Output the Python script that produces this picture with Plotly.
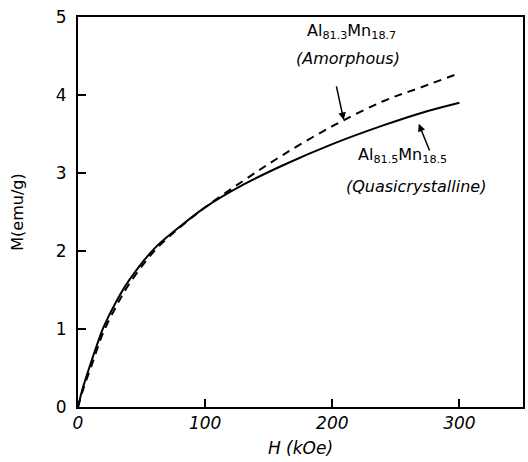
import plotly.graph_objects as go

# Quasicrystalline Al81.5Mn18.5 (solid)
H_quasi = [0, 3, 6, 10, 15, 20, 30, 40, 60, 80, 100, 130, 160, 200, 240, 270, 300]
M_quasi = [0, 0.2, 0.36, 0.56, 0.8, 1.02, 1.35, 1.62, 2.03, 2.31, 2.56, 2.85, 3.09, 3.37, 3.61, 3.77, 3.9]

# Amorphous Al81.3Mn18.7 (dashed)
H_amor = [0, 3, 6, 10, 15, 20, 30, 40, 60, 80, 100, 130, 160, 200, 240, 270, 300]
M_amor = [0, 0.17, 0.32, 0.5, 0.74, 0.96, 1.29, 1.57, 2.0, 2.3, 2.56, 2.9, 3.22, 3.6, 3.92, 4.1, 4.28]

x_ticks = [0, 100, 200, 300]
y_ticks = [0, 1, 2, 3, 4, 5]

FONT = "DejaVu Sans"

fig = go.Figure()
fig.add_trace(go.Scatter(x=H_quasi, y=M_quasi, mode="lines",
                         line=dict(color="black", width=2, shape="spline", smoothing=1.0), showlegend=False))
fig.add_trace(go.Scatter(x=H_amor, y=M_amor, mode="lines",
                         line=dict(color="black", width=2, dash="8px,6px", shape="spline", smoothing=1.0), showlegend=False))

axis_common = dict(showgrid=False, zeroline=False, showline=True, linecolor="black", linewidth=2,
                   mirror=True, ticks="inside", ticklen=8, tickwidth=1.5, tickcolor="black",
                   tickfont=dict(family=FONT, size=17, color="black"))

fig.update_xaxes(range=[0, 350], tickvals=x_ticks, ticktext=["<i>%d</i>" % v for v in x_ticks],
                 title=dict(text="<i>H (kOe)</i>", font=dict(family=FONT, size=17, color="black"), standoff=10),
                 **axis_common)
fig.update_yaxes(range=[0, 5], tickvals=y_ticks, ticktext=[str(v) for v in y_ticks],
                 title=dict(text="M(emu/g)", font=dict(family=FONT, size=16, color="black"), standoff=28),
                 ticklabelstandoff=6, **axis_common)

ann_font = dict(family=FONT, size=16, color="black")
annotations = [
    dict(x=215, y=4.82, xref="x", yref="y", text="Al<sub>81.3</sub>Mn<sub>18.7</sub>", showarrow=False, font=ann_font),
    dict(x=212, y=4.47, xref="x", yref="y", text="<i>(Amorphous)</i>", showarrow=False, font=ann_font),
    dict(x=255, y=3.22, xref="x", yref="y", text="Al<sub>81.5</sub>Mn<sub>18.5</sub>", showarrow=False, font=ann_font),
    dict(x=266, y=2.83, xref="x", yref="y", text="<i>(Quasicrystalline)</i>", showarrow=False, font=ann_font),
    dict(x=209, y=3.68, ax=203, ay=4.13, xref="x", yref="y", axref="x", ayref="y", text="",
         showarrow=True, arrowhead=2, arrowsize=1, arrowwidth=1.5, arrowcolor="black"),
    dict(x=268, y=3.63, ax=277, ay=3.27, xref="x", yref="y", axref="x", ayref="y", text="",
         showarrow=True, arrowhead=2, arrowsize=1, arrowwidth=1.5, arrowcolor="black"),
]

fig.update_layout(width=528, height=462, margin=dict(l=78, r=3, t=17, b=55),
                  paper_bgcolor="white", plot_bgcolor="white", annotations=annotations)

fig.write_html("out.html")
